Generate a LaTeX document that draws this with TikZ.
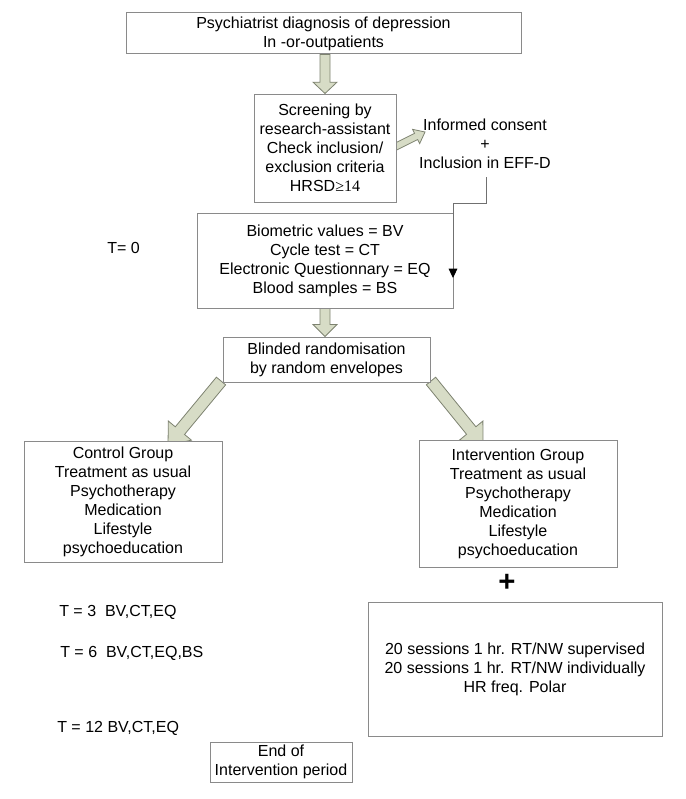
\documentclass[tikz,border=0pt]{standalone}
\usepackage{fontspec}
\setmainfont{Liberation Sans}
\newfontfamily\serifgl{Liberation Serif}
\usetikzlibrary{calc,arrows.meta}
\pgfdeclarelayer{background}
\pgfsetlayers{background,main}
\definecolor{boxline}{HTML}{8A8A8A}
\definecolor{fafill}{HTML}{D7DCC6}
\definecolor{faline}{HTML}{7D8270}
\definecolor{connline}{HTML}{707070}
\tikzset{
  box/.style={draw=boxline, line width=0.75pt, fill=white, align=center, inner sep=0pt,
              font=\fontsize{12}{14.25}\selectfont},
  lbl/.style={align=center, inner sep=0pt, font=\fontsize{12}{14.25}\selectfont},
  fatarrowstyle/.style={draw=faline, fill=fafill, line width=0.6pt, line join=miter},
  conn/.style={draw=connline, line width=0.75pt}
}
\newcommand{\fatarrow}[5]{%
  \coordinate (faH) at ($(#2)!#5!(#1)$);
  \draw[fatarrowstyle] ($(#1)!#3!90:(#2)$) -- ($(faH)!#3!90:(#2)$) -- ($(faH)!#4!90:(#2)$)
    -- (#2) -- ($(faH)!#4!-90:(#2)$) -- ($(faH)!#3!-90:(#2)$) -- ($(#1)!#3!-90:(#2)$) -- cycle;
}
\begin{document}
\begin{tikzpicture}[x=0.75pt, y=-0.75pt]
\useasboundingbox (0,0) rectangle (685,799);

\node[box, minimum width=296.25pt, minimum height=30.75pt] (diag) at (323.5,33.5)
  {Psychiatrist diagnosis of depression\\In -or-outpatients};
\node[box, minimum width=106.5pt, minimum height=81pt] (screen) at (325,148)
  {Screening by\\research-assistant\\Check inclusion/\\exclusion criteria\\HRSD{\serifgl ≥14}};
\node[lbl] (consent) at (485,144) {Informed consent\\+\\Inclusion in EFF-D};
\node[box, minimum width=192pt, minimum height=71.25pt] (bv) at (325,260.5)
  {Biometric values = BV\\Cycle test = CT\\Electronic Questionnary = EQ\\Blood samples = BS};
\node[lbl, anchor=west] (t0) at (107,248) {T= 0};
\node[box, minimum width=155.25pt, minimum height=33.75pt] (blind) at (326.5,359.5)
  {Blinded randomisation\\by random envelopes};
\node[box, minimum width=148.5pt, minimum height=90.75pt] (control) at (123,501.5)
  {Control Group\\Treatment as usual\\Psychotherapy\\Medication\\Lifestyle\\psychoeducation};
\node[box, minimum width=148.5pt, minimum height=95.25pt] (interv) at (518,503.5)
  {Intervention Group\\Treatment as usual\\Psychotherapy\\Medication\\Lifestyle\\psychoeducation};
\node[lbl, font=\bfseries\fontsize{22}{22}\selectfont] (plus) at (507,583) {+};
\node[box, minimum width=220.5pt, minimum height=100.5pt] (sessions) at (515,669)
  {20 sessions 1 hr. RT/NW supervised\\20 sessions 1 hr. RT/NW individually\\HR freq. Polar};
\node[lbl, anchor=west] (t3) at (59,612) {T = 3\ \ BV,CT,EQ};
\node[lbl, anchor=west] (t6) at (60,653) {T = 6\ \ BV,CT,EQ,BS};
\node[lbl, anchor=west] (t12) at (57,728) {T = 12 BV,CT,EQ};
\node[box, minimum width=106.5pt, minimum height=30pt] (endp) at (281,762)
  {End of\\Intervention period};

% connector consent -> BV box
\coordinate (cstart) at (486,177);
\coordinate (cturn) at (453,203);
\coordinate (ctip) at (453,278);
\draw[conn, -{Triangle[width=6.5pt,length=7pt,black]}] (cstart) |- (cturn) -- (ctip);

\begin{pgfonlayer}{background}
  \coordinate (a1s) at (screen.north |- diag.south);
  \fatarrow{a1s}{screen.north}{3.75pt}{9pt}{8.5pt}
  \coordinate (a2s) at (395,147);
  \coordinate (a2t) at (425,132);
  \fatarrow{a2s}{a2t}{2.6pt}{6pt}{7.5pt}
  \coordinate (a3t) at (bv.south |- blind.north);
  \fatarrow{bv.south}{a3t}{3.75pt}{9pt}{9pt}
  \coordinate (a4s) at (221,381);
  \coordinate (a4t) at (168,445);
  \fatarrow{a4s}{a4t}{4.5pt}{11.25pt}{14pt}
  \coordinate (a5s) at (431,381);
  \coordinate (a5t) at (483,445);
  \fatarrow{a5s}{a5t}{4.5pt}{11.25pt}{14pt}
\end{pgfonlayer}
\end{tikzpicture}
\end{document}
